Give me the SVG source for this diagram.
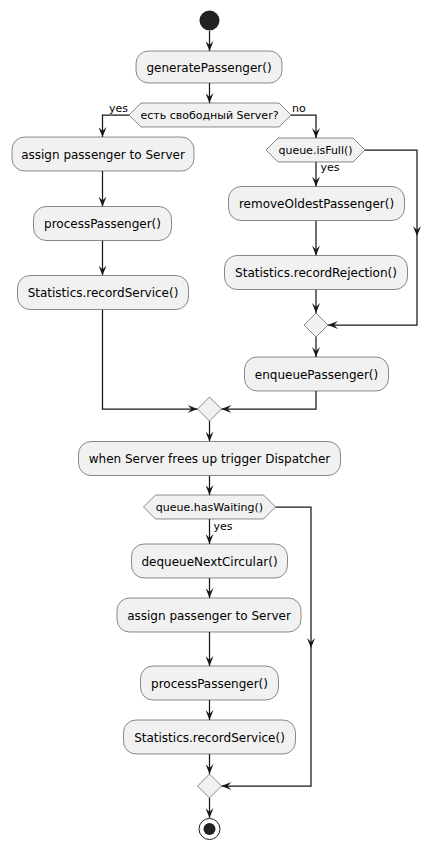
<svg xmlns="http://www.w3.org/2000/svg" width="442" height="850" viewBox="0 0 442 850">
  <style>
    .act { fill: #F1F1F1; stroke: #181818; stroke-width: 0.5; }
    .dec { fill: #F1F1F1; stroke: #181818; stroke-width: 0.5; }
    .lbl { font-family: "DejaVu Sans", "Noto Sans", sans-serif; font-size: 12px; fill: #000; text-anchor: middle; }
    .cond { font-family: "DejaVu Sans", "Noto Sans", sans-serif; font-size: 11px; fill: #000; text-anchor: middle; }
    .br { font-family: "DejaVu Sans", "Noto Sans", sans-serif; font-size: 11px; fill: #000; }
    .edge { fill: none; stroke: #181818; stroke-width: 1.25; marker-end: url(#arrow); }
  </style>
  <defs>
    <marker id="arrow" markerUnits="userSpaceOnUse" markerWidth="10" markerHeight="8" refX="10" refY="4" orient="auto" viewBox="0 0 10 8">
      <path d="M0,0 L10,4 L0,8 L4,4 Z" fill="#181818"/>
    </marker>
  </defs>

  <!-- connectors -->
  <g id="edges">
    <path class="edge" d="M209.5,31 V51"/>
    <path class="edge" d="M209.5,83 V103"/>
    <path class="edge" d="M129,115 H102.5 V137"/>
    <path class="edge" d="M291,115 H316 V138"/>
    <path class="edge" d="M102.5,171 V206.5"/>
    <path class="edge" d="M102.5,240.5 V275.5"/>
    <path class="edge" d="M102.5,309.5 V409 H197.5"/>
    <path class="edge" d="M316,162 V186.5"/>
    <path class="edge" d="M316,220.5 V255.5"/>
    <path class="edge" d="M316,289.5 V313"/>
    <path class="edge" d="M365,150 H417 V236"/>
    <path class="edge" d="M417,236 V325 H328"/>
    <path class="edge" d="M316,337 V357"/>
    <path class="edge" d="M316,391 V409 H221.5"/>
    <path class="edge" d="M209.5,421 V441.5"/>
    <path class="edge" d="M209.5,475.5 V495"/>
    <path class="edge" d="M209.5,519 V544"/>
    <path class="edge" d="M209.5,578 V598"/>
    <path class="edge" d="M209.5,632 V666"/>
    <path class="edge" d="M209.5,700 V720"/>
    <path class="edge" d="M209.5,754 V774"/>
    <path class="edge" d="M275.5,507 H311 V648"/>
    <path class="edge" d="M311,648 V786 H221.5"/>
    <path class="edge" d="M209.5,798 V818"/>
  </g>

  <!-- branch labels -->
  <g id="branch-labels">
    <text class="br" x="109" y="112">yes</text>
    <text class="br" x="292" y="112">no</text>
    <text class="br" x="320.5" y="171">yes</text>
    <text class="br" x="213.5" y="530">yes</text>
  </g>

  <g id="start">
    <circle cx="209.5" cy="20.5" r="10" fill="#222222"/>
  </g>

  <g id="generatePassenger">
    <rect class="act" x="136" y="51" width="146" height="32" rx="12.5"/>
    <text class="lbl" x="209" y="71.5">generatePassenger()</text>
  </g>

  <g id="hasFreeServer">
    <polygon class="dec" points="129,115 141,103 279,103 291,115 279,127 141,127"/>
    <text class="cond" x="209.5" y="119">есть свободный Server?</text>
  </g>

  <g id="assignServer1">
    <rect class="act" x="12" y="137" width="182" height="34" rx="12.5"/>
    <text class="lbl" x="103" y="158.5">assign passenger to Server</text>
  </g>

  <g id="processPassenger1">
    <rect class="act" x="33.5" y="206.5" width="138" height="34" rx="12.5"/>
    <text class="lbl" x="102.5" y="228">processPassenger()</text>
  </g>

  <g id="recordService1">
    <rect class="act" x="17.5" y="275.5" width="171" height="34" rx="12.5"/>
    <text class="lbl" x="103" y="297">Statistics.recordService()</text>
  </g>

  <g id="queueIsFull">
    <polygon class="dec" points="266,150 278,138 353,138 365,150 353,162 278,162"/>
    <text class="cond" x="315.5" y="154">queue.isFull()</text>
  </g>

  <g id="removeOldest">
    <rect class="act" x="228.5" y="186.5" width="176" height="34" rx="12.5"/>
    <text class="lbl" x="316.5" y="208">removeOldestPassenger()</text>
  </g>

  <g id="recordRejection">
    <rect class="act" x="224.5" y="255.5" width="183" height="34" rx="12.5"/>
    <text class="lbl" x="316" y="277">Statistics.recordRejection()</text>
  </g>

  <g id="mergeFull">
    <polygon class="dec" points="316,313 328,325 316,337 304,325"/>
  </g>

  <g id="enqueue">
    <rect class="act" x="244.5" y="357" width="144" height="34" rx="12.5"/>
    <text class="lbl" x="316.5" y="378.5">enqueuePassenger()</text>
  </g>

  <g id="mergeServer">
    <polygon class="dec" points="209.5,397 221.5,409 209.5,421 197.5,409"/>
  </g>

  <g id="dispatcher">
    <rect class="act" x="78.5" y="441.5" width="262" height="34" rx="12.5"/>
    <text class="lbl" x="209.5" y="463">when Server frees up trigger Dispatcher</text>
  </g>

  <g id="hasWaiting">
    <polygon class="dec" points="143.5,507 155.5,495 263.5,495 275.5,507 263.5,519 155.5,519"/>
    <text class="cond" x="209.5" y="511">queue.hasWaiting()</text>
  </g>

  <g id="dequeue">
    <rect class="act" x="131.5" y="544" width="156" height="34" rx="12.5"/>
    <text class="lbl" x="209.5" y="565.5">dequeueNextCircular()</text>
  </g>

  <g id="assignServer2">
    <rect class="act" x="117" y="598" width="184" height="34" rx="12.5"/>
    <text class="lbl" x="209" y="619.5">assign passenger to Server</text>
  </g>

  <g id="processPassenger2">
    <rect class="act" x="140.5" y="666" width="138" height="34" rx="12.5"/>
    <text class="lbl" x="209.5" y="687.5">processPassenger()</text>
  </g>

  <g id="recordService2">
    <rect class="act" x="123.5" y="720" width="172" height="34" rx="12.5"/>
    <text class="lbl" x="209.5" y="741.5">Statistics.recordService()</text>
  </g>

  <g id="mergeWaiting">
    <polygon class="dec" points="209.5,774 221.5,786 209.5,798 197.5,786"/>
  </g>

  <g id="stop">
    <circle cx="209.5" cy="829" r="10.5" fill="none" stroke="#222222" stroke-width="1"/>
    <circle cx="209.5" cy="829" r="6" fill="#222222"/>
  </g>
</svg>
